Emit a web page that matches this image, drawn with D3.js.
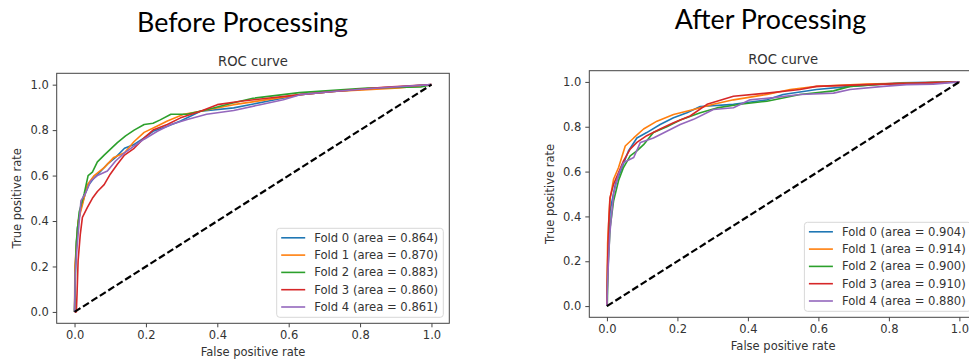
<!DOCTYPE html>
<html lang="en">
<head>
<meta charset="utf-8" />
<title>ROC curves</title>
<script src="https://d3js.org/d3.v7.min.js"></script>
<style>
	body { margin: 0; background: white; }
	svg { display: block; }
	.panel-title { font: 26.8px Lato, "Open Sans", sans-serif; fill: black; }
	.ax text { font-family: "DejaVu Sans", sans-serif; fill: #333; }
	.curve { fill: none; stroke-width: 1.6; stroke-linejoin: round; }
</style>
</head>
<body>
<svg width="969" height="361"></svg>
<script>

//	fold names and colours (matplotlib tab10)
var foldNames = ["Fold 0", "Fold 1", "Fold 2", "Fold 3", "Fold 4"];
var foldColors = ["#1f77b4", "#ff7f0e", "#2ca02c", "#d62728", "#9467bd"];
var aucBefore = [0.864, 0.870, 0.883, 0.860, 0.861];
var aucAfter = [0.904, 0.914, 0.900, 0.910, 0.880];
var ticks = [0, 0.2, 0.4, 0.6, 0.8, 1.0];

//	before processing: [fpr, tpr]
var beforeFold0 = [[0,0],[0.002,0.2],[0.008,0.37],[0.018,0.46],[0.03,0.52],[0.04,0.56],[0.055,0.59],[0.074,0.62],[0.092,0.65],[0.115,0.68],[0.14,0.72],[0.167,0.737],[0.195,0.766],[0.22,0.795],[0.26,0.817],[0.297,0.84],[0.353,0.883],[0.446,0.898],[0.54,0.927],[0.632,0.956],[0.725,0.97],[0.865,0.985],[1,1]];
var beforeFold1 = [[0,0],[0.001,0.2],[0.01,0.40],[0.022,0.47],[0.036,0.56],[0.055,0.60],[0.083,0.635],[0.11,0.68],[0.14,0.70],[0.167,0.75],[0.195,0.79],[0.232,0.818],[0.26,0.84],[0.306,0.87],[0.353,0.883],[0.446,0.912],[0.54,0.934],[0.632,0.956],[0.725,0.97],[0.82,0.978],[0.91,0.985],[1,1]];
var beforeFold2 = [[0,0],[0.003,0.2],[0.005,0.31],[0.013,0.44],[0.027,0.52],[0.038,0.60],[0.05,0.615],[0.064,0.66],[0.083,0.69],[0.10,0.715],[0.12,0.745],[0.143,0.775],[0.167,0.80],[0.195,0.825],[0.22,0.83],[0.24,0.845],[0.27,0.87],[0.315,0.87],[0.37,0.89],[0.446,0.92],[0.50,0.94],[0.63,0.965],[0.82,0.985],[0.97,0.99],[1,1]];
var beforeFold3 = [[0,0],[0.005,0.0],[0.007,0.08],[0.01,0.226],[0.016,0.34],[0.022,0.416],[0.036,0.46],[0.05,0.50],[0.064,0.53],[0.083,0.56],[0.10,0.606],[0.12,0.65],[0.14,0.69],[0.167,0.72],[0.195,0.766],[0.22,0.80],[0.26,0.825],[0.297,0.854],[0.353,0.883],[0.40,0.912],[0.465,0.927],[0.54,0.94],[0.632,0.956],[0.725,0.97],[0.865,0.988],[1,1]];
var beforeFold4 = [[0,0],[0.002,0.17],[0.007,0.285],[0.018,0.49],[0.03,0.52],[0.046,0.577],[0.064,0.60],[0.092,0.62],[0.115,0.664],[0.14,0.70],[0.167,0.73],[0.195,0.76],[0.232,0.795],[0.27,0.825],[0.316,0.847],[0.37,0.87],[0.446,0.886],[0.52,0.912],[0.585,0.934],[0.632,0.956],[0.725,0.97],[0.82,0.982],[1,1]];

//	after processing: [fpr, tpr]
var afterFold0 = [[0,0],[0.002,0.175],[0.009,0.426],[0.024,0.544],[0.043,0.618],[0.061,0.692],[0.085,0.75],[0.113,0.774],[0.151,0.81],[0.189,0.84],[0.227,0.862],[0.265,0.89],[0.359,0.90],[0.454,0.92],[0.50,0.944],[0.595,0.966],[0.69,0.98],[0.832,0.996],[1,1]];
var afterFold1 = [[0,0],[0.001,0.145],[0.002,0.28],[0.008,0.47],[0.019,0.567],[0.033,0.618],[0.052,0.714],[0.076,0.75],[0.104,0.79],[0.142,0.825],[0.189,0.855],[0.246,0.877],[0.302,0.90],[0.359,0.92],[0.454,0.944],[0.52,0.966],[0.595,0.98],[0.737,0.99],[1,1]];
var afterFold2 = [[0,0],[0.001,0.0],[0.003,0.17],[0.009,0.35],[0.019,0.47],[0.033,0.56],[0.047,0.618],[0.066,0.67],[0.085,0.692],[0.104,0.72],[0.132,0.774],[0.17,0.80],[0.208,0.83],[0.265,0.862],[0.312,0.884],[0.378,0.90],[0.454,0.914],[0.548,0.944],[0.643,0.96],[0.69,0.98],[0.784,0.99],[1,1]];
var afterFold3 = [[0,0],[0.002,0.2],[0.005,0.367],[0.009,0.485],[0.019,0.544],[0.033,0.596],[0.047,0.648],[0.066,0.70],[0.085,0.73],[0.113,0.76],[0.151,0.79],[0.189,0.818],[0.236,0.848],[0.284,0.90],[0.359,0.936],[0.454,0.95],[0.548,0.966],[0.595,0.98],[0.737,0.988],[1,1]];
var afterFold4 = [[0,0],[0.002,0.115],[0.008,0.32],[0.019,0.50],[0.033,0.588],[0.047,0.64],[0.076,0.663],[0.095,0.73],[0.132,0.75],[0.17,0.78],[0.208,0.81],[0.246,0.833],[0.302,0.877],[0.359,0.885],[0.406,0.92],[0.473,0.93],[0.548,0.944],[0.643,0.95],[0.69,0.966],[0.784,0.98],[0.85,0.988],[0.926,0.99],[1,1]];

var svg = d3.select("svg");

var panels = [
	{ heading: "Before Processing", hx: 242.5, hy: 31.5,
	  left: 56.7, right: 449.3, top: 73.3, bottom: 323.3,
	  folds: [beforeFold0, beforeFold1, beforeFold2, beforeFold3, beforeFold4], auc: aucBefore },
	{ heading: "After Processing", hx: 770.5, hy: 28.5,
	  left: 589.3, right: 977, top: 70.7, bottom: 317.3,
	  folds: [afterFold0, afterFold1, afterFold2, afterFold3, afterFold4], auc: aucAfter }
];

panels.forEach(drawPanel);

function drawPanel(p) {
	svg.append("text")
		.attr("class", "panel-title")
		.attr("x", p.hx).attr("y", p.hy)
		.attr("text-anchor", "middle")
		.text(p.heading);

	//	matplotlib style 5% margins
	var w = p.right - p.left, h = p.bottom - p.top;
	var x = d3.scaleLinear().domain([-0.05, 1.05]).range([p.left, p.right]);
	var y = d3.scaleLinear().domain([-0.05, 1.05]).range([p.bottom, p.top]);

	var g = svg.append("g").attr("class", "ax");

	//	curves
	var line = d3.line().x(d => x(d[0])).y(d => y(d[1]));
	g.selectAll(".curve")
		.data(p.folds)
		.enter().append("path")
		.attr("class", "curve")
		.attr("stroke", (d, i) => foldColors[i])
		.attr("d", line);

	//	chance line
	g.append("path")
		.attr("d", line([[0, 0], [1, 1]]))
		.attr("fill", "none")
		.attr("stroke", "black")
		.attr("stroke-width", 2.2)
		.attr("stroke-dasharray", "7,3");

	//	frame
	g.append("rect")
		.attr("x", p.left).attr("y", p.top)
		.attr("width", w).attr("height", h)
		.attr("fill", "none")
		.attr("stroke", "#444")
		.attr("stroke-width", 1);

	//	axes
	var xAxis = d3.axisBottom(x).tickValues(ticks).tickFormat(d3.format(".1f")).tickSizeOuter(0).tickSize(4).tickPadding(4);
	var yAxis = d3.axisLeft(y).tickValues(ticks).tickFormat(d3.format(".1f")).tickSizeOuter(0).tickSize(4).tickPadding(4);
	var gx = g.append("g").attr("transform", "translate(0," + p.bottom + ")").call(xAxis);
	var gy = g.append("g").attr("transform", "translate(" + p.left + ",0)").call(yAxis);
	[gx, gy].forEach(function(a) {
		a.select(".domain").remove();
		a.selectAll("line").attr("stroke", "#444");
		a.selectAll("text").attr("font-size", 11.5).attr("fill", "#333");
	});

	g.append("text")
		.attr("x", (p.left + p.right) / 2).attr("y", p.top - 7)
		.attr("text-anchor", "middle")
		.attr("font-size", 13.2)
		.text("ROC curve");

	g.append("text")
		.attr("x", (p.left + p.right) / 2).attr("y", p.bottom + 33)
		.attr("text-anchor", "middle")
		.attr("font-size", 11.5)
		.text("False positive rate");

	g.append("text")
		.attr("transform", "translate(" + (p.left - 35.5) + "," + (p.top + h / 2) + ") rotate(-90)")
		.attr("text-anchor", "middle")
		.attr("font-size", 11.5)
		.text("True positive rate");

	//	legend, lower right
	var lw = 166.6, lh = 89;
	var lx = p.right - 6 - lw, ly = p.bottom - 6 - lh;
	var leg = g.append("g").attr("transform", "translate(" + lx + "," + ly + ")");
	leg.append("rect")
		.attr("width", lw).attr("height", lh)
		.attr("rx", 3)
		.attr("fill", "white").attr("fill-opacity", 0.8)
		.attr("stroke", "#d8d8d8");
	var row = leg.selectAll(".row")
		.data(foldNames)
		.enter().append("g")
		.attr("transform", (d, i) => "translate(0," + (9.5 + i * 17.3) + ")");
	row.append("line")
		.attr("x1", 4.5).attr("x2", 28.5)
		.attr("stroke", (d, i) => foldColors[i])
		.attr("stroke-width", 1.6);
	row.append("text")
		.attr("x", 37.5).attr("dy", "0.35em")
		.attr("font-size", 11.6)
		.text((d, i) => d + " (area = " + p.auc[i].toFixed(3) + ")");
}

</script>
</body>
</html>
